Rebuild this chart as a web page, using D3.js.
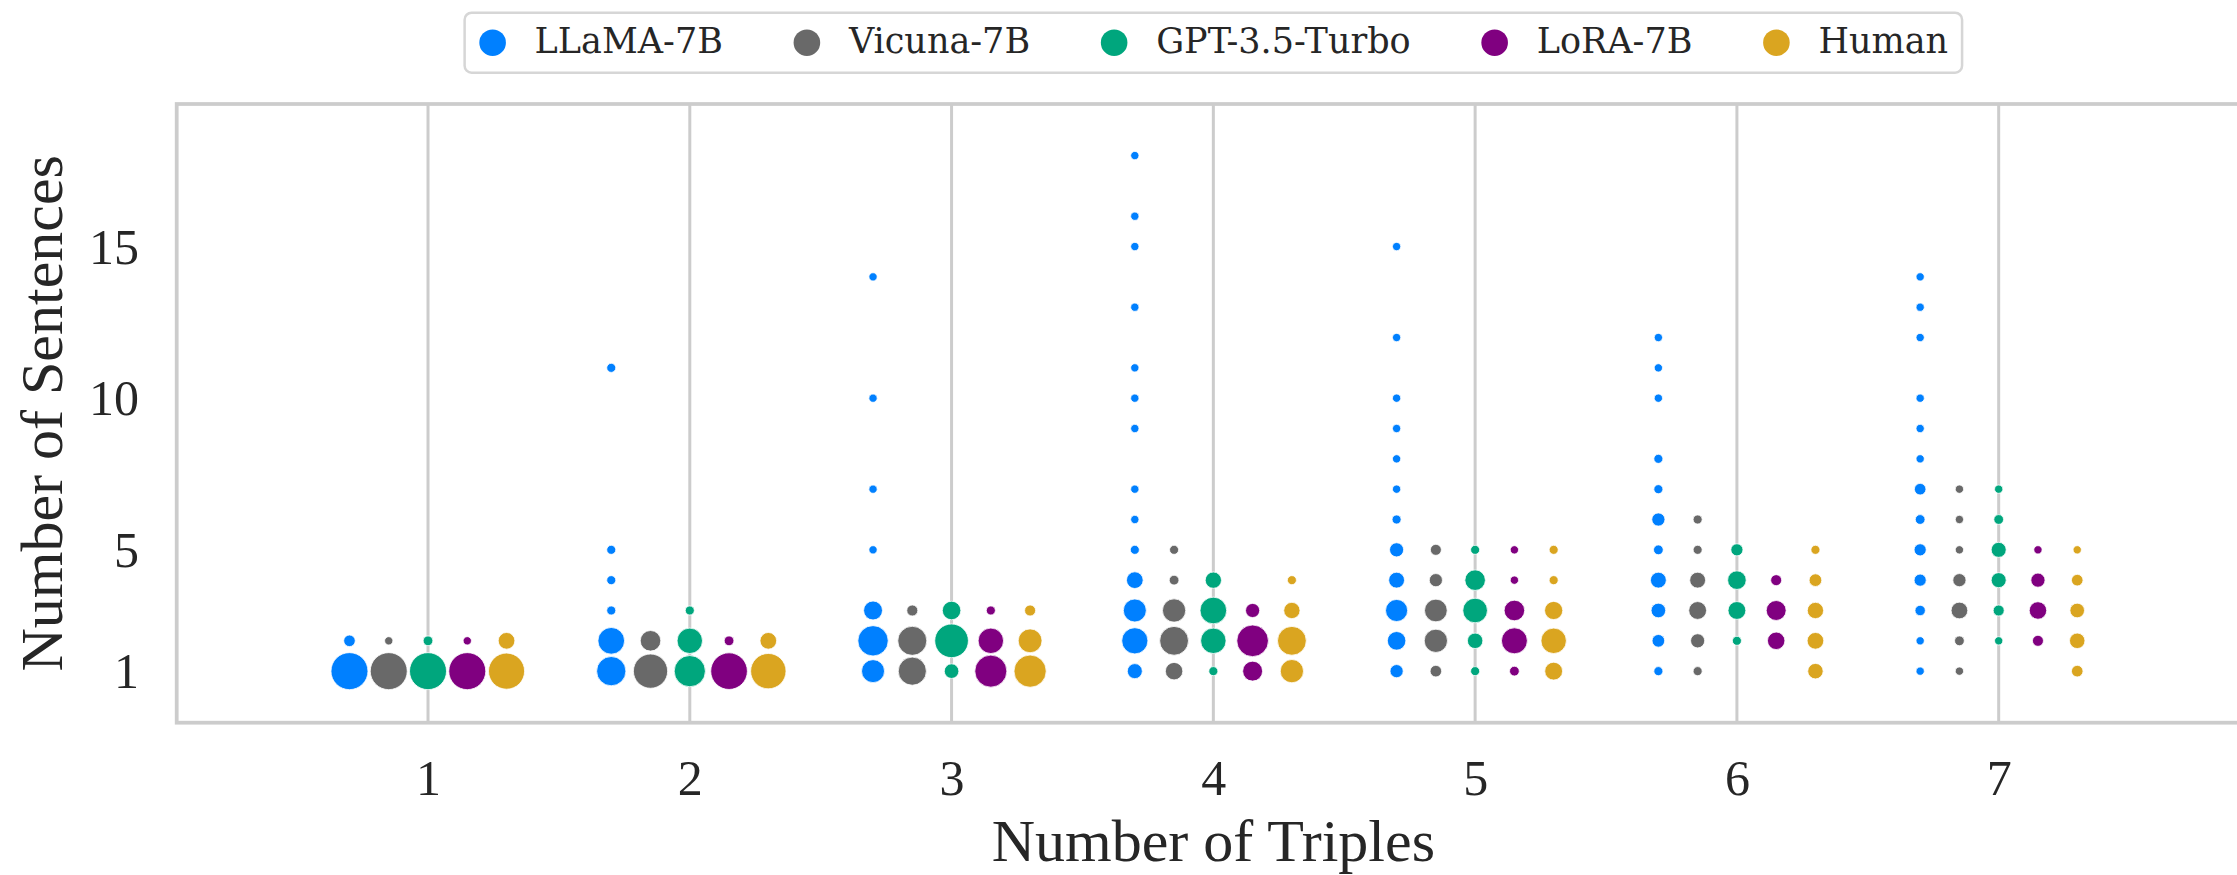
<!DOCTYPE html>
<html>
<head>
<meta charset="utf-8">
<script src="https://cdn.jsdelivr.net/npm/d3@7"></script>
<style>
  html, body { margin: 0; padding: 0; background: #ffffff; }
  svg { display: block; }
</style>
</head>
<body>
<svg id="chart" width="2237" height="875"></svg>
<script>
// Models shown in the legend, in drawing order
const models = ["LLaMA-7B", "Vicuna-7B", "GPT-3.5-Turbo", "LoRA-7B", "Human"];
const modelColors = ["#0080ff", "#696969", "#00a67d", "#800080", "#daa520"];

// Axis ticks
const tripleTicks = [1, 2, 3, 4, 5, 6, 7];
const sentenceTicks = [1, 5, 10, 15];

// [number of triples, number of sentences, count of outputs]
const llama = [
  [1, 1, 100], [1, 2, 6],
  [2, 1, 61], [2, 2, 50], [2, 3, 2], [2, 4, 2], [2, 5, 2], [2, 11, 2],
  [3, 1, 36], [3, 2, 66], [3, 3, 23], [3, 5, 1], [3, 7, 1], [3, 10, 1], [3, 14, 1],
  [4, 1, 13], [4, 2, 48], [4, 3, 36], [4, 4, 17], [4, 5, 2], [4, 6, 1], [4, 7, 1],
  [4, 9, 1], [4, 10, 1], [4, 11, 1], [4, 13, 1], [4, 15, 1], [4, 16, 1], [4, 18, 1],
  [5, 1, 9], [5, 2, 22], [5, 3, 33], [5, 4, 15], [5, 5, 11], [5, 6, 2], [5, 7, 1],
  [5, 8, 1], [5, 9, 1], [5, 10, 1], [5, 12, 1], [5, 15, 1],
  [6, 1, 2], [6, 2, 8], [6, 3, 12], [6, 4, 15], [6, 5, 3], [6, 6, 9], [6, 7, 2],
  [6, 8, 2], [6, 10, 1], [6, 11, 1], [6, 12, 1],
  [7, 1, 1], [7, 2, 1], [7, 3, 4], [7, 4, 7], [7, 5, 7], [7, 6, 3], [7, 7, 6],
  [7, 8, 1], [7, 9, 1], [7, 10, 1], [7, 12, 1], [7, 13, 1], [7, 14, 1]
];
const vicuna = [
  [1, 1, 100], [1, 2, 1],
  [2, 1, 85], [2, 2, 28],
  [3, 1, 56], [3, 2, 60], [3, 3, 5],
  [4, 1, 19], [4, 2, 59], [4, 3, 37], [4, 4, 3], [4, 5, 2],
  [5, 1, 6], [5, 2, 37], [5, 3, 35], [5, 4, 9], [5, 5, 5],
  [6, 1, 2], [6, 2, 11], [6, 3, 20], [6, 4, 15], [6, 5, 2], [6, 6, 2],
  [7, 1, 1], [7, 2, 3], [7, 3, 17], [7, 4, 9], [7, 5, 1], [7, 6, 1], [7, 7, 1]
];
const gpt35 = [
  [1, 1, 100], [1, 2, 3],
  [2, 1, 70], [2, 2, 45], [2, 3, 2],
  [3, 1, 12], [3, 2, 82], [3, 3, 22],
  [4, 1, 2], [4, 2, 45], [4, 3, 50], [4, 4, 16],
  [5, 1, 2], [5, 2, 14], [5, 3, 42], [5, 4, 28], [5, 5, 2],
  [6, 2, 2], [6, 3, 20], [6, 4, 22], [6, 5, 7],
  [7, 2, 1], [7, 3, 5], [7, 4, 13], [7, 5, 13], [7, 6, 3], [7, 7, 1]
];
const lora = [
  [1, 1, 100], [1, 2, 1],
  [2, 1, 98], [2, 2, 3],
  [3, 1, 74], [3, 2, 45], [3, 3, 2],
  [4, 1, 26], [4, 2, 72], [4, 3, 11],
  [5, 1, 3], [5, 2, 47], [5, 3, 28], [5, 4, 1], [5, 5, 1],
  [6, 2, 19], [6, 3, 26], [6, 4, 5],
  [7, 2, 5], [7, 3, 19], [7, 4, 11], [7, 5, 1]
];
const human = [
  [1, 1, 95], [1, 2, 17],
  [2, 1, 91], [2, 2, 17],
  [3, 1, 75], [3, 2, 39], [3, 3, 5],
  [4, 1, 37], [4, 2, 59], [4, 3, 16], [4, 4, 2],
  [5, 1, 20], [5, 2, 45], [5, 3, 21], [5, 4, 2], [5, 5, 2],
  [6, 1, 14], [6, 2, 17], [6, 3, 16], [6, 4, 8], [6, 5, 2],
  [7, 1, 6], [7, 2, 14], [7, 3, 12], [7, 4, 6], [7, 5, 1]
];
const seriesData = [llama, vicuna, gpt35, lora, human];

const svg = d3.select("#chart");
const plot = { left: 176.7, right: 2250, top: 104, bottom: 722.7 };

const x = d3.scaleLinear().domain([0.04, 7.96]).range([plot.left, plot.right]);
const y = d3.scaleLinear().domain([-0.7, 19.7]).range([plot.bottom, plot.top]);
// marker area grows linearly with count
const allCounts = seriesData.flat().map(d => d[2]);
const area = d3.scaleLinear().domain(d3.extent(allCounts)).range([17.2, 342.25]);
const radius = c => Math.sqrt(area(c));
const dodge = 0.15;

const serif = "'Liberation Serif', 'Times New Roman', serif";
const textColor = "#262626";
const gridColor = "#cccccc";

// vertical grid lines
svg.append("g")
  .selectAll("line")
  .data(tripleTicks)
  .join("line")
  .attr("x1", d => x(d)).attr("x2", d => x(d))
  .attr("y1", plot.top).attr("y2", plot.bottom)
  .attr("stroke", gridColor)
  .attr("stroke-width", 3);

// axes frame
svg.append("rect")
  .attr("x", plot.left).attr("y", plot.top)
  .attr("width", plot.right - plot.left)
  .attr("height", plot.bottom - plot.top)
  .attr("fill", "none")
  .attr("stroke", gridColor)
  .attr("stroke-width", 3.75);

// points, one group per model, offset side by side
seriesData.forEach((rows, i) => {
  svg.append("g")
    .selectAll("circle")
    .data(rows)
    .join("circle")
    .attr("cx", d => x(d[0] + (i - 2) * dodge))
    .attr("cy", d => y(d[1]))
    .attr("r", d => radius(d[2]))
    .attr("fill", modelColors[i])
    .attr("stroke", "#ffffff")
    .attr("stroke-width", 0.8);
});

// x axis
const xAxis = svg.append("g")
  .attr("transform", `translate(0,${plot.bottom})`)
  .call(d3.axisBottom(x).tickValues(tripleTicks).tickSize(0).tickFormat(d3.format("d")));
xAxis.select(".domain").remove();
xAxis.selectAll("text")
  .attr("y", 72.3).attr("dy", null)
  .attr("font-family", serif).attr("font-size", 50)
  .attr("fill", textColor);

// y axis
const yAxis = svg.append("g")
  .attr("transform", `translate(${plot.left},0)`)
  .call(d3.axisLeft(y).tickValues(sentenceTicks).tickSize(0).tickFormat(d3.format("d")));
yAxis.select(".domain").remove();
yAxis.selectAll("text")
  .attr("x", -37.7).attr("dy", "0.33em")
  .attr("font-family", serif).attr("font-size", 50)
  .attr("fill", textColor);

// axis titles
svg.append("text")
  .attr("x", (plot.left + plot.right) / 2)
  .attr("y", 861)
  .attr("text-anchor", "middle")
  .attr("font-family", serif).attr("font-size", 60)
  .attr("fill", textColor)
  .text("Number of Triples");

svg.append("text")
  .attr("transform", `translate(62,${(plot.top + plot.bottom) / 2}) rotate(-90)`)
  .attr("text-anchor", "middle")
  .attr("font-family", serif).attr("font-size", 60)
  .attr("fill", textColor)
  .text("Number of Sentences");

// legend
const legFont = 35;
const pad = 0.4 * legFont, handleLen = 0.8 * legFont, textPad = 0.8 * legFont, colSpace = 2 * legFont;
const legend = svg.append("g");
const frame = legend.append("rect");
const items = legend.selectAll("g.item")
  .data(models)
  .join("g").attr("class", "item");
items.append("circle")
  .attr("r", 13.3)
  .attr("cy", 42.7)
  .attr("fill", (d, i) => modelColors[i]);
items.append("text")
  .attr("y", 52.7)
  .attr("font-family", "'DejaVu Serif', serif")
  .attr("font-size", legFont)
  .attr("fill", textColor)
  .text(d => d);

let cursor = pad;
const positions = [];
items.each(function () {
  const g = d3.select(this);
  const w = g.select("text").node().getComputedTextLength();
  positions.push({ marker: cursor + handleLen / 2, text: cursor + handleLen + textPad });
  cursor += handleLen + textPad + w + colSpace;
});
const legWidth = cursor - colSpace + pad;
const legLeft = (plot.left + plot.right) / 2 - legWidth / 2;
items.each(function (d, i) {
  const g = d3.select(this);
  g.select("circle").attr("cx", legLeft + positions[i].marker);
  g.select("text").attr("x", legLeft + positions[i].text);
});
frame
  .attr("x", legLeft).attr("y", 12.7)
  .attr("width", legWidth).attr("height", 60)
  .attr("rx", 7).attr("ry", 7)
  .attr("fill", "#ffffff")
  .attr("stroke", "#d6d6d6")
  .attr("stroke-width", 2.5);
</script>
</body>
</html>
